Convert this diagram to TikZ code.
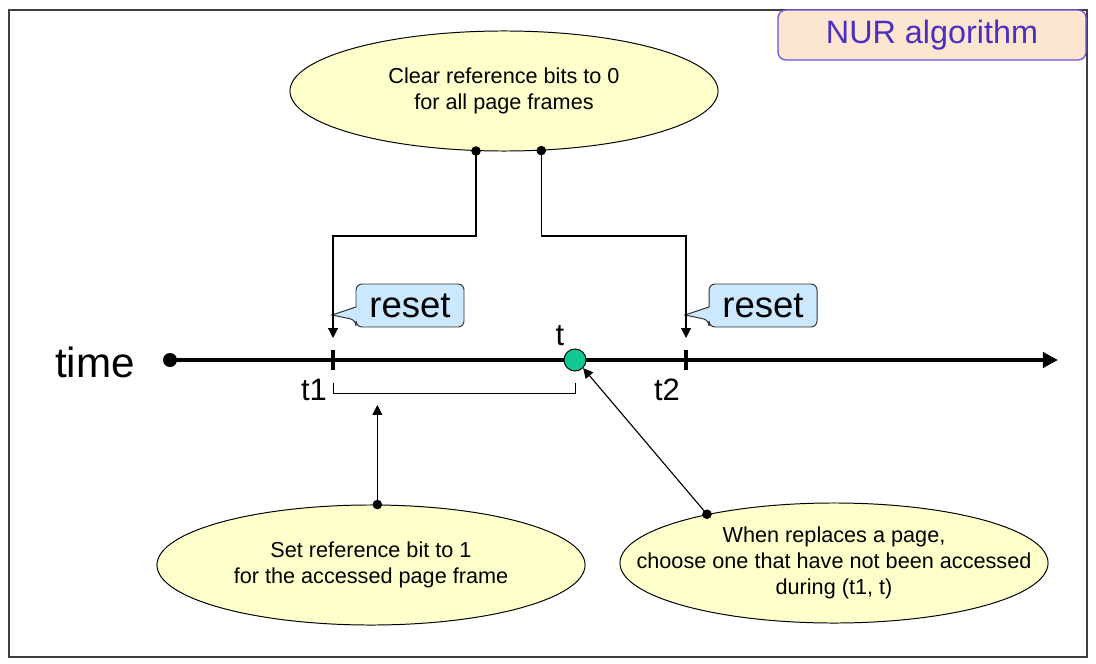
\documentclass[tikz,border=0pt]{standalone}
\usepackage{fontspec}
\setmainfont{Liberation Sans}
\usetikzlibrary{calc,arrows.meta,shapes.geometric}
\definecolor{bubblefill}{HTML}{FFFFCC}
\definecolor{resetfill}{HTML}{CCE8FF}
\definecolor{titlefill}{HTML}{FDE6D0}
\definecolor{titledraw}{HTML}{6A50E0}
\definecolor{titletext}{HTML}{4B2FC4}
\definecolor{nowfill}{HTML}{12C995}
\tikzset{
	bubble/.style={ellipse, draw, line width=0.7pt, fill=bubblefill, minimum width=10.7cm, minimum height=3cm, inner xsep=-2cm, inner ysep=-0.6cm, align=center, font=\fontsize{15.4}{18.5}\selectfont},
	callbox/.style={draw=black!80, line width=0.7pt, fill=resetfill},
	resettext/.style={inner sep=0pt, font=\fontsize{26}{30}\selectfont},
	ticklabel/.style={inner sep=0pt, font=\fontsize{22}{26}\selectfont},
	conn/.style={line width=0.8pt, -{Triangle[length=7pt,width=7pt]}},
	dot/.style={circle, fill=black, inner sep=0pt, minimum size=0.24cm}
}
% callout with its tip at x = #1, text node named #2
\def\resetcallout(#1)#2{
	\draw[callbox] ({#1+24},307) [rounded corners=0.15cm] -- ({#1+24},284) -- ({#1+132},284) -- ({#1+132},327) -- ({#1+24},327) -- ({#1+24},320) [sharp corners] -- (#1,315) -- cycle;
	\node[resettext] (#2) at ({#1+78},306) {reset};
}

\begin{document}
\begin{tikzpicture}[x=0.025cm, y=-0.025cm]
			%%%%% START %%%%%
			\useasboundingbox (0,0) rectangle (1096,663);
			
			\draw[line width=1.1pt, color=black!75] (9,10) rectangle (1087,657);
			\node[draw=titledraw, line width=0.9pt, fill=titlefill, rounded corners=0.2cm, minimum width=7.7cm, minimum height=1.25cm, text=titletext, font=\fontsize{23}{27}\selectfont] (title) at (932,35) {NUR algorithm};
			
			%% time axis
			\coordinate (start) at (170,360);
			\coordinate (end) at (1058,360);
			\coordinate (tk1) at (333,360);
			\coordinate (tk2) at (686,360);
			\draw[line width=2.85pt, -{Triangle[length=10.7pt,width=10.7pt]}] (start) -- (end);
			\fill (start) circle (0.175cm);
			\draw[line width=3.5pt] (333,350) -- (333,370);
			\draw[line width=3.5pt] (686,350) -- (686,370);
			\node[draw, line width=0.7pt, fill=nowfill, circle, minimum size=0.55cm, inner sep=0pt] (now) at (575,360) {};
			
			\node[inner sep=0pt, font=\fontsize{30}{34}\selectfont] (time) at (95,362) {time};
			\node[ticklabel] (lt1) at (314,390) {t1};
			\node[ticklabel] (lt2) at (667,390) {t2};
			\node[ticklabel] (lt) at (560,336) {t};
			
			%% interval (t1, t)
			\draw[line width=0.7pt] (333,383) |- (575,393) -- (575,383);
			
			%% reset callouts
			\coordinate (r1tip) at (333,338);
			\coordinate (r2tip) at (686,338);
			\resetcallout(332){rs1}
			\resetcallout(685){rs2}
			
			%% bubbles
			\node[bubble] (clr) at (504,91) {Clear reference bits to 0\\for all page frames};
			\node[bubble] (setb) at (371,565) {Set reference bit to 1\\for the accessed page frame};
			\node[bubble] (repl) at (834,563) {When replaces a page,\\choose one that have not been accessed\\during (t1, t)};
			
			\node[dot] (d1) at (clr.245) {};
			\node[dot] (d2) at (clr.302) {};
			\node[dot] (d3) at (setb.84) {};
			\node[dot] (d4) at (repl.159) {};
			
			\coordinate (ivl) at (d3 |- 0,405);
			\draw[conn] (d1.center) -- (d1 |- 0,236) -| (r1tip);
			\draw[conn] (d2.center) -- (d2 |- 0,236) -| (r2tip);
			\draw[conn] (d3.center) -- (ivl);
			\draw[conn] (d4.center) -- (now.south east);
			
			%%%%% END %%%%%
\end{tikzpicture}
\end{document}
